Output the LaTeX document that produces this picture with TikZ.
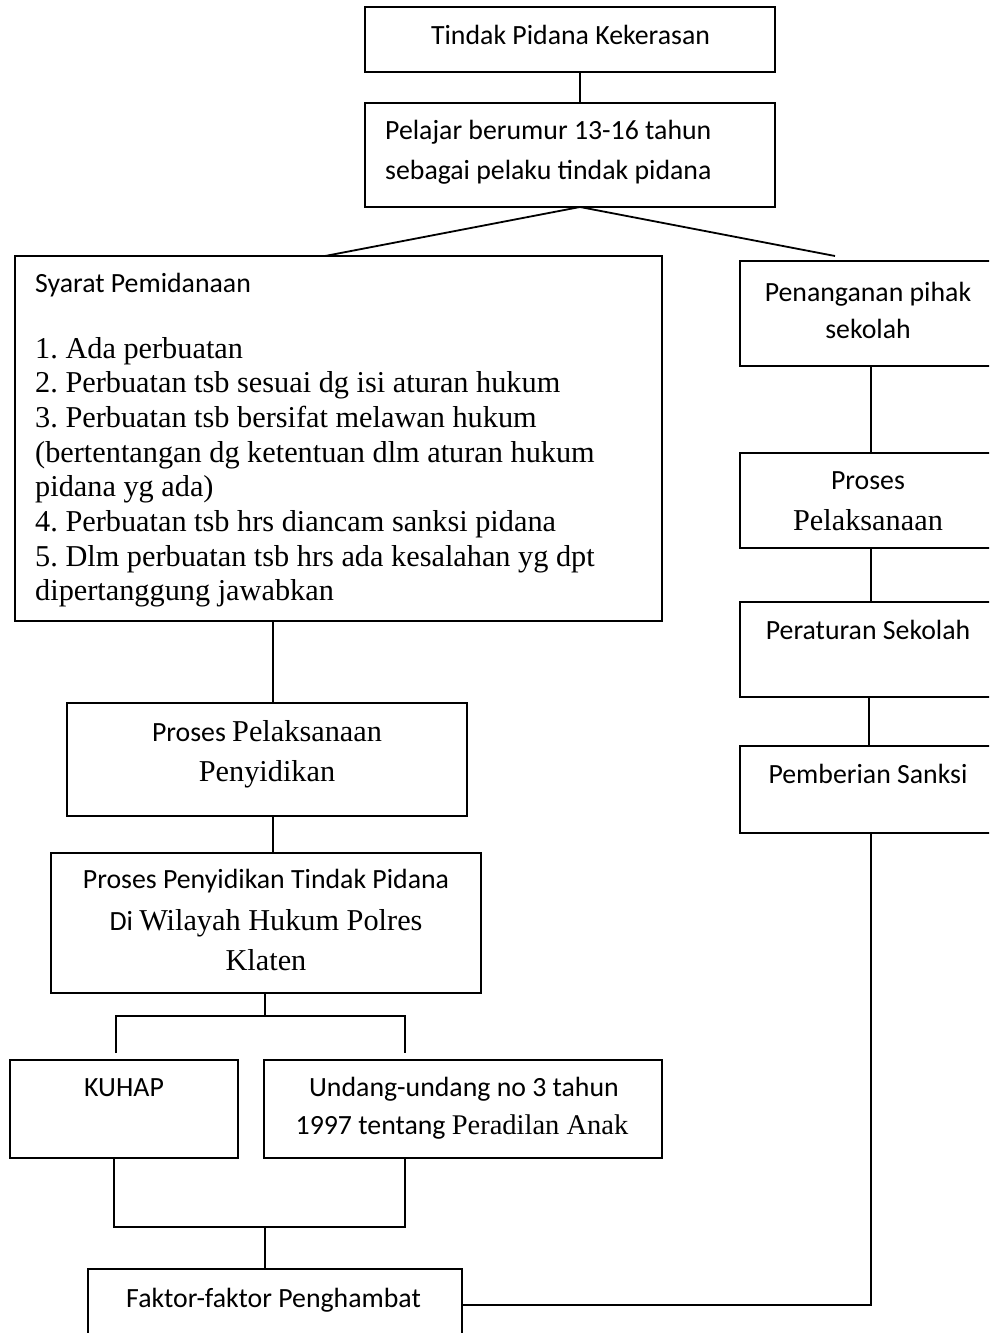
\documentclass[tikz,border=0pt]{standalone}
\usepackage{fontspec}
\setmainfont{Carlito}
\newfontfamily\tnrfont{Liberation Serif}
\newfontfamily\calfont{Carlito}
\newcommand{\calsz}{\fontsize{27.8}{34}\selectfont}
\newcommand{\tnrsz}{\fontsize{30.3}{34.7}\selectfont}
\newcommand{\tnrs}{\tnrfont\tnrsz}
\frenchspacing
\begin{document}
\begin{tikzpicture}[x=1pt,y=-1pt,
  box/.style={draw, line width=1.8pt, inner sep=0pt, outer sep=0pt, anchor=north west},
  conn/.style={line width=1.8pt},
  lbl/.style={anchor=base, inner sep=0pt, font=\calfont\calsz},
  lbll/.style={anchor=base west, inner sep=0pt, font=\calfont\calsz},
  lst/.style={anchor=base west, inner sep=0pt, font=\tnrs}]
\path[use as bounding box] (0,0) rectangle (989,1333);
\clip (0,0) rectangle (989,1333);

% boxes
\node[box, minimum width=410pt, minimum height=65pt] (tindak) at (365,7) {};
\node[box, minimum width=410pt, minimum height=104pt] (pelajar) at (365,103) {};
\node[box, minimum width=647pt, minimum height=365pt] (syarat) at (15,256) {};
\node[box, minimum width=256pt, minimum height=105pt] (penanganan) at (740,261) {};
\node[box, minimum width=256pt, minimum height=95pt] (proses2) at (740,453) {};
\node[box, minimum width=256pt, minimum height=95pt] (peraturan) at (740,602) {};
\node[box, minimum width=256pt, minimum height=87pt] (pemberian) at (740,746) {};
\node[box, minimum width=400pt, minimum height=113pt] (prosespel) at (67,703) {};
\node[box, minimum width=430pt, minimum height=140pt] (prosespeny) at (51,853) {};
\node[box, minimum width=228pt, minimum height=98pt] (kuhap) at (10,1060) {};
\node[box, minimum width=398pt, minimum height=98pt] (undang) at (264,1060) {};
\node[box, minimum width=374pt, minimum height=120pt] (faktor) at (88,1269) {};

% texts
\node[lbl] (t-tindak) at (570.5,44) {Tindak Pidana Kekerasan};
\node[lbll] (t-pel1) at (385,139) {Pelajar berumur 13-16 tahun};
\node[lbll] (t-pel2) at (385,179) {sebagai pelaku tindak pidana};
\node[lbll] (t-sy) at (35,292) {Syarat Pemidanaan};
\foreach \i/\t in {0/{1. Ada perbuatan},
                   1/{2. Perbuatan tsb sesuai dg isi aturan hukum},
                   2/{3. Perbuatan tsb bersifat melawan hukum},
                   3/{(bertentangan dg ketentuan dlm aturan hukum},
                   4/{pidana yg ada)},
                   5/{4. Perbuatan tsb hrs diancam sanksi pidana},
                   6/{5. Dlm perbuatan tsb hrs ada kesalahan yg dpt},
                   7/{dipertanggung jawabkan}}
  \node[lst] (t-l\i) at (35,358+34.7*\i) {\t};
\node[lbl] (t-pen1) at (868,301) {Penanganan pihak};
\node[lbl] (t-pen2) at (868,338) {sekolah};
\node[lbl] (t-pr1) at (868,489) {Proses};
\node[lbl] (t-pr2) at (868,530) {\tnrs Pelaksanaan};
\node[lbl] (t-per) at (868,639) {Peraturan Sekolah};
\node[lbl] (t-pem) at (868,783) {Pemberian Sanksi};
\node[lbl] (t-pp1) at (267,741) {Proses {\tnrs Pelaksanaan}};
\node[lbl] (t-pp2) at (267,781) {\tnrs Penyidikan};
\node[lbl] (t-ps1) at (266,888) {Proses Penyidikan Tindak Pidana};
\node[lbl] (t-ps2) at (266,930) {Di {\tnrs Wilayah Hukum Polres}};
\node[lbl] (t-ps3) at (266,970) {\tnrs Klaten};
\node[lbl] (t-kuhap) at (124,1096) {KUHAP};
\node[lbl] (t-uu1) at (464,1096) {Undang-undang no 3 tahun};
\node[lbl] (t-uu2) at (462,1134) {1997 tentang {\tnrfont\fontsize{28.5}{34}\selectfont Peradilan Anak}};
\node[lbl] (t-fak) at (273.5,1307) {Faktor-faktor Penghambat};

% guide coordinates for connector columns and free ends
\coordinate (c1) at (580,0);
\coordinate (c2) at (273,0);
\coordinate (c3) at (871,0);
\coordinate (c4) at (869,0);
\coordinate (fC) at (265,1016);
\coordinate (fL) at (116,1016);
\coordinate (fR) at (405,1016);
\coordinate (fLe) at (116,1053);
\coordinate (fRe) at (405,1053);
\coordinate (jL) at (114,1227);
\coordinate (jR) at (405,1227);
\coordinate (jC) at (265,1227);

% connectors
\draw[conn] (tindak.south -| c1) -- (pelajar.north -| c1);
\draw[conn] ([xshift=-13.5pt]syarat.north) -- (pelajar.south -| c1)
            -- ([xshift=-33pt,yshift=5pt]penanganan.north);
\draw[conn] (syarat.south -| c2) -- (prosespel.north -| c2);
\draw[conn] (prosespel.south -| c2) -- (prosespeny.north -| c2);
\draw[conn] (prosespeny.south -| fC) -- (fC);
\draw[conn] (fLe) -- (fL) -- (fR) -- (fRe);
\draw[conn] (kuhap.south -| jL) -- (jL) -- (jR) -- (undang.south -| jR);
\draw[conn] (jC) -- (faktor.north -| jC);
\draw[conn] (penanganan.south -| c3) -- (proses2.north -| c3);
\draw[conn] (proses2.south -| c3) -- (peraturan.north -| c3);
\draw[conn] (peraturan.south -| c4) -- (pemberian.north -| c4);
\draw[conn] ([yshift=-36pt]faktor.north east) -| (pemberian.south -| c3);
\end{tikzpicture}
\end{document}
